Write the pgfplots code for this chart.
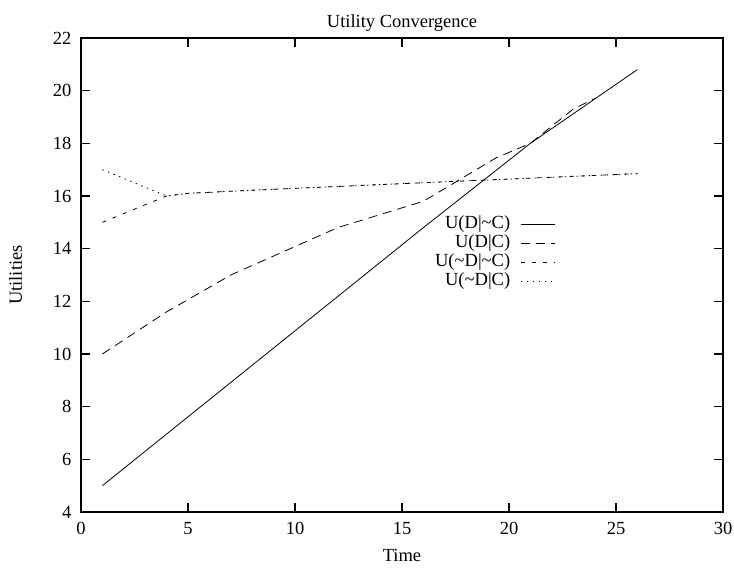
\documentclass[border=0pt]{standalone}
\usepackage{pgfplots}
\pgfplotsset{compat=1.18}
\usepackage{fontspec}
\setmainfont{Liberation Serif}
\newcommand{\fs}{\fontsize{18.5}{22}\selectfont}
\begin{document}
\begin{tikzpicture}
\path[use as bounding box] (-81pt,-56pt) rectangle (653pt,512pt);
\begin{axis}[
  at={(0pt,0pt)}, anchor=south west,
  scale only axis, width=642pt, height=474pt,
  xmin=0, xmax=30, ymin=4, ymax=22,
  xtick={0,5,...,30}, ytick={4,6,...,22},
  /pgf/number format/assume math mode=true,
  tick align=inside, major tick length=9pt,
  axis line style={line width=1.6pt},
  tick style={line width=1.2pt, black},
  tick label style={font=\fs},
  xticklabel style={yshift=-7pt},
  yticklabel style={xshift=-6pt},
  title={Utility Convergence},
  title style={font=\fs, yshift=-3pt},
  xlabel={Time}, ylabel={Utilities},
  label style={font=\fs},
  xlabel style={yshift=-7pt},
  ylabel style={yshift=24pt},
  legend cell align=right,
  legend plot pos=right,
  legend image code/.code={\draw[#1] (0pt,0pt) -- (34pt,0pt);},
  legend style={at={(axis cs:22.3,15.35)}, anchor=north east, draw=none, fill=none,
    font=\fs, row sep=0pt,
    nodes={inner sep=1pt, text height=12.5pt, text depth=4.5pt},
    /tikz/column sep=9pt},
]
\addplot[black, line width=0.8pt] coordinates {(1,5) (16,14.8) (21,18.0) (26,20.8)};
\addlegendentry{U(D\textbar\textasciitilde C)}
\addplot[black, line width=0.8pt, dash pattern=on 9pt off 6pt] coordinates {(1,10) (4,11.6) (7,13) (12,14.8) (16,15.8) (19.4,17.45) (21,18.0) (22,18.65) (23,19.3) (24,19.7)};
\addlegendentry{U(D\textbar C)}
\addplot[black, line width=0.8pt, dash pattern=on 4pt off 7pt] coordinates {(1,15) (4,16) (5,16.1) (8,16.22) (17,16.54) (26,16.85)};
\addlegendentry{U(\textasciitilde D\textbar\textasciitilde C)}
\addplot[black, line width=0.8pt, dash pattern=on 1.5pt off 4.5pt] coordinates {(1,17) (4,16) (5,16.1) (8,16.22) (17,16.54) (26,16.85)};
\addlegendentry{U(\textasciitilde D\textbar C)}
\end{axis}
\end{tikzpicture}
\end{document}
